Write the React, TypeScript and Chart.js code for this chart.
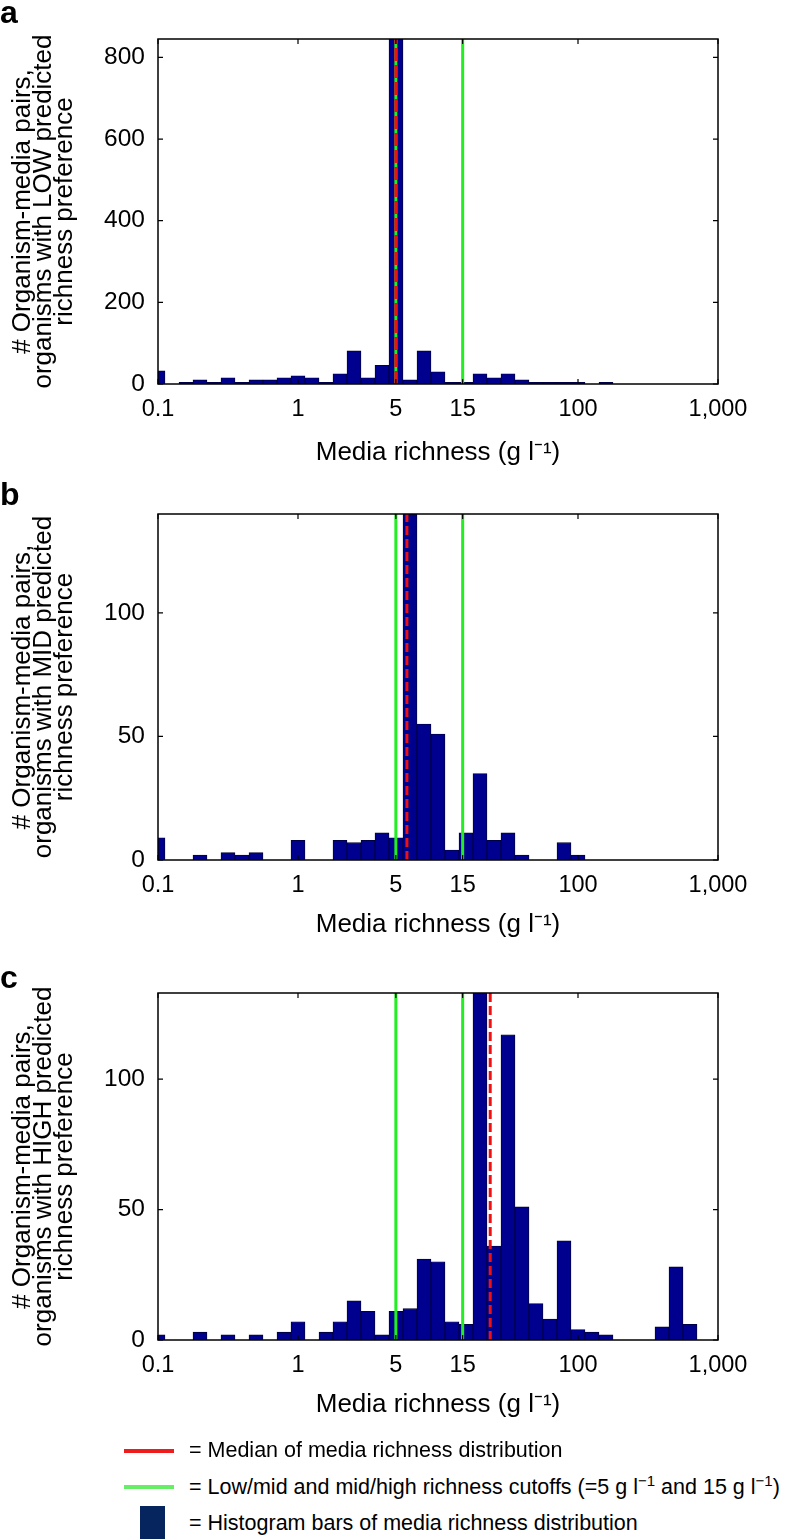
import React, { useEffect, useRef } from "react";
import { Chart, registerables } from "chart.js";
Chart.register(...registerables);

const FONT = "'Liberation Sans', Arial, Helvetica, sans-serif";

// Histogram bin centres (g l^-1), 0.1-decade log bins
const binCenters = [
  0.1, 0.1259, 0.1585, 0.1995, 0.2512, 0.3162, 0.3981, 0.5012, 0.631, 0.7943,
  1, 1.259, 1.585, 1.995, 2.512, 3.162, 3.981, 5.012, 6.31, 7.943,
  10, 12.59, 15.85, 19.95, 25.12, 31.62, 39.81, 50.12, 63.1, 79.43,
  100, 125.9, 158.5, 199.5, 251.2, 316.2, 398.1, 501.2, 631, 794.3, 1000,
];

const countsLow = [
  32, 0, 4, 10, 4, 15, 4, 10, 10, 15,
  20, 15, 4, 25, 81, 15, 46, 1100, 10, 81,
  30, 4, 4, 25, 15, 25, 10, 4, 4, 4,
  4, 0, 4, 0, 0, 0, 0, 0, 0, 0, 0,
];

const countsMid = [
  9, 0, 0, 2, 0, 3, 2, 3, 0, 0,
  8, 0, 0, 8, 7, 8, 11, 9, 200, 55,
  51, 4, 11, 35, 8, 11, 2, 0, 0, 7,
  2, 0, 0, 0, 0, 0, 0, 0, 0, 0, 0,
];

const countsHigh = [
  2, 0, 0, 3, 0, 2, 0, 2, 0, 3,
  7, 0, 3, 7, 15, 11, 2, 11, 12, 31,
  30, 7, 6, 180, 36, 117, 51, 14, 8, 38,
  4, 3, 2, 0, 0, 0, 5, 28, 6, 0, 0,
];

const xTickValues = [0.1, 1, 5, 15, 100, 1000];
const xTickLabels = ["0.1", "1", "5", "15", "100", "1,000"];

const yTicksLow = [0, 200, 400, 600, 800];
const yTicksMid = [0, 50, 100];
const yTicksHigh = [0, 50, 100];

const yMaxLow = 845;
const yMaxMid = 140;
const yMaxHigh = 133;

const cutoffs = [5, 15];
const medianLow = 5;
const medianMid = 6.0;
const medianHigh = 23.6;

const yTitleLow = ["# Organism-media pairs,", "organisms with LOW predicted", "richness preference"];
const yTitleMid = ["# Organism-media pairs,", "organisms with MID predicted", "richness preference"];
const yTitleHigh = ["# Organism-media pairs,", "organisms with HIGH predicted", "richness preference"];

const xTitle = "Media richness (g l\u207B\u00B9)";

const BAR_COLOR = "#00008f";
const GREEN = "#22ee22";
const RED = "#ee1111";

const framePlugin = {
  id: "frame",
  afterDatasetsDraw(chart: any, _args: any, opts: any) {
    const { ctx, chartArea } = chart;
    const { left, right, top, bottom } = chartArea;
    const x = chart.scales.x;
    const y = chart.scales.y;
    ctx.save();
    ctx.beginPath();
    ctx.rect(left, top, right - left, bottom - top);
    ctx.clip();
    ctx.strokeStyle = GREEN;
    ctx.lineWidth = 3;
    for (const c of opts.cutoffs || []) {
      const px = x.getPixelForValue(c);
      ctx.beginPath();
      ctx.moveTo(px, top);
      ctx.lineTo(px, bottom);
      ctx.stroke();
    }
    ctx.strokeStyle = RED;
    ctx.lineWidth = 3;
    ctx.setLineDash(opts.dash || [9, 4]);
    const mx = x.getPixelForValue(opts.median);
    ctx.beginPath();
    ctx.moveTo(mx, bottom);
    ctx.lineTo(mx, top);
    ctx.stroke();
    ctx.restore();

    ctx.save();
    ctx.strokeStyle = "#000";
    ctx.lineWidth = 1.5;
    ctx.strokeRect(left, top, right - left, bottom - top);
    ctx.lineWidth = 1.2;
    ctx.beginPath();
    for (const t of x.ticks) {
      const px = x.getPixelForValue(t.value);
      ctx.moveTo(px, bottom);
      ctx.lineTo(px, bottom - 5);
      ctx.moveTo(px, top);
      ctx.lineTo(px, top + 5);
    }
    for (const t of y.ticks) {
      const py = y.getPixelForValue(t.value);
      ctx.moveTo(left, py);
      ctx.lineTo(left + 5, py);
      ctx.moveTo(right, py);
      ctx.lineTo(right - 5, py);
    }
    ctx.stroke();
    ctx.restore();
  },
};

type PanelProps = {
  top: number;
  counts: number[];
  yTicks: number[];
  yMax: number;
  median: number;
  yTitle: string[];
  padTop: number;
  xAxisH: number;
  xTitlePad: number;
  dash: number[];
};

function Panel(p: PanelProps) {
  const ref = useRef<HTMLCanvasElement | null>(null);
  useEffect(() => {
    if (!ref.current) return;
    const chart = new Chart(ref.current, {
      type: "bar",
      data: {
        datasets: [
          {
            data: binCenters.map((c, i) => ({ x: c, y: p.counts[i] })),
            backgroundColor: BAR_COLOR,
            borderColor: "#000030",
            borderWidth: 0.8,
            barPercentage: 1,
            categoryPercentage: 1,
          } as any,
        ],
      },
      options: {
        animation: false,
        responsive: false,
        maintainAspectRatio: false,
        layout: { padding: { left: 0, right: 70, top: p.padTop, bottom: 0 } },
        plugins: {
          legend: { display: false },
          tooltip: { enabled: false },
          frame: { cutoffs, median: p.median, dash: p.dash },
        } as any,
        scales: {
          x: {
            type: "logarithmic",
            min: 0.1,
            max: 1000,
            afterBuildTicks: (s: any) => {
              s.ticks = xTickValues.map((v) => ({ value: v }));
            },
            afterFit: (s: any) => {
              s.height = p.xAxisH;
            },
            ticks: {
              autoSkip: false,
              maxRotation: 0,
              minRotation: 0,
              padding: 11,
              color: "#000",
              font: { family: FONT, size: 23.5 },
              callback: (_v: any, i: number) => xTickLabels[i],
            },
            grid: { display: false, drawTicks: false },
            border: { display: false },
            title: {
              display: true,
              text: xTitle,
              color: "#000",
              font: { family: FONT, size: 26 },
              padding: { top: 0, bottom: p.xTitlePad },
            },
          },
          y: {
            type: "linear",
            min: 0,
            max: p.yMax,
            afterBuildTicks: (s: any) => {
              s.ticks = p.yTicks.map((v) => ({ value: v }));
            },
            afterFit: (s: any) => {
              s.width = 158;
            },
            ticks: {
              padding: 13,
              color: "#000",
              font: { family: FONT, size: 24.5 },
            },
            grid: { display: false, drawTicks: false },
            border: { display: false },
            title: {
              display: true,
              text: p.yTitle,
              color: "#000",
              font: { family: FONT, size: 26, lineHeight: "21px" },
              padding: { top: 12.5, bottom: 0 },
            },
          },
        },
      } as any,
      plugins: [framePlugin as any],
    });
    return () => chart.destroy();
  }, []);
  return (
    <div style={{ position: "absolute", left: 0, top: p.top, width: 788, height: 480 }}>
      <canvas ref={ref} width={788} height={480} style={{ width: 788, height: 480, display: "block" }} />
    </div>
  );
}

function Letter({ ch, baseline }: { ch: string; baseline: number }) {
  return (
    <div
      style={{
        position: "absolute",
        left: 0,
        top: baseline - 27,
        fontFamily: FONT,
        fontWeight: "bold",
        fontSize: 32,
        lineHeight: "32px",
        color: "#000",
      }}
    >
      {ch}
    </div>
  );
}

function LegendRow({ top, children }: { top: number; children: React.ReactNode }) {
  return (
    <div
      style={{
        position: "absolute",
        left: 189,
        top,
        fontFamily: FONT,
        fontSize: 21.5,
        lineHeight: "21.5px",
        whiteSpace: "nowrap",
        color: "#000",
      }}
    >
      {children}
    </div>
  );
}

export default function App() {
  const sup = { fontSize: "0.7em", verticalAlign: "0.55em", lineHeight: 0 } as React.CSSProperties;
  return (
    <div
      style={{
        position: "absolute",
        left: 0,
        top: 0,
        width: 788,
        height: 1539,
        background: "#fff",
        overflow: "hidden",
      }}
    >
      <Panel top={0} counts={countsLow} yTicks={yTicksLow} yMax={yMaxLow} median={medianLow}
        yTitle={yTitleLow} padTop={39} xAxisH={96} xTitlePad={12} dash={[13, 4]} />
      <Panel top={480} counts={countsMid} yTicks={yTicksMid} yMax={yMaxMid} median={medianMid}
        yTitle={yTitleMid} padTop={34} xAxisH={100} xTitlePad={19.5} dash={[9, 4]} />
      <Panel top={960} counts={countsHigh} yTicks={yTicksHigh} yMax={yMaxHigh} median={medianHigh}
        yTitle={yTitleHigh} padTop={33} xAxisH={100} xTitlePad={19.5} dash={[9, 4]} />
      <Letter ch="a" baseline={23} />
      <Letter ch="b" baseline={505} />
      <Letter ch="c" baseline={988} />

      <div style={{ position: "absolute", left: 124, top: 1449, width: 50, height: 4, background: "#ee1c1c" }} />
      <div style={{ position: "absolute", left: 124, top: 1485, width: 50, height: 4, background: "#66ee66" }} />
      <div style={{ position: "absolute", left: 140, top: 1506, width: 25, height: 40, background: "#06245e" }} />

      <LegendRow top={1440}>= Median of media richness distribution</LegendRow>
      <LegendRow top={1477}>
        = Low/mid and mid/high richness cutoffs (=5 g l<span style={sup}>−1</span> and 15 g l
        <span style={sup}>−1</span>)
      </LegendRow>
      <LegendRow top={1513}>= Histogram bars of media richness distribution</LegendRow>
    </div>
  );
}
